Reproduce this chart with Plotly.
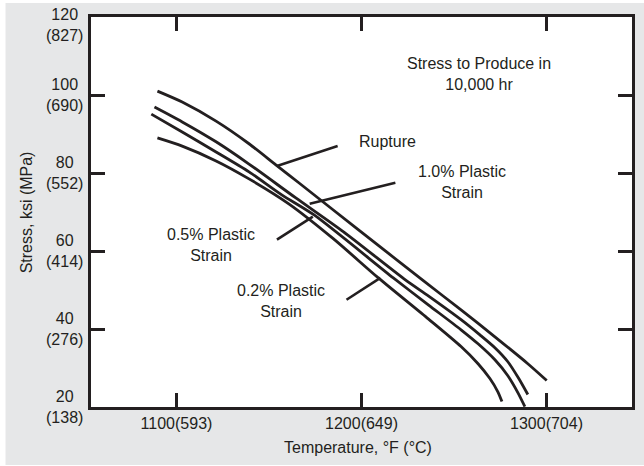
import plotly.graph_objects as go

# curves: temperature (F) vs stress (ksi)
rupture_t = [1089.7, 1103.1, 1121.4, 1139.2, 1153.7, 1166.1, 1198.4, 1233.4, 1253.8, 1272.1, 1289.9, 1300.1]
rupture_s = [101.0, 98.2, 93.3, 87.5, 82.1, 77.5, 65.4, 52.4, 44.9, 38.0, 31.1, 26.8]

p10_t = [1088.1, 1103.1, 1121.4, 1139.2, 1164.5, 1190.3, 1223.7, 1236.1, 1253.8, 1264.0, 1272.1, 1279.1, 1285.0, 1289.9]
p10_s = [96.9, 93.1, 88.0, 82.3, 73.6, 64.9, 52.6, 48.5, 42.4, 38.5, 35.2, 31.6, 27.3, 23.2]

p05_t = [1086.4, 1103.1, 1121.4, 1139.2, 1156.9, 1174.2, 1217.2, 1236.1, 1253.8, 1263.0, 1272.1, 1279.1, 1284.5, 1288.3]
p05_s = [95.1, 90.5, 85.4, 80.3, 74.4, 69.3, 53.1, 46.2, 39.8, 36.2, 32.1, 28.0, 23.7, 20.1]

p02_t = [1089.7, 1103.1, 1121.4, 1139.2, 1160.7, 1184.9, 1209.1, 1236.1, 1253.8, 1263.0, 1269.4, 1273.7, 1275.9]
p02_s = [89.0, 86.9, 83.1, 78.5, 72.1, 63.1, 53.1, 42.6, 35.5, 31.1, 27.3, 23.9, 21.4]

# leader lines from labels to curves
leader_t = [[1154.3, 1187.1], [1172.0, 1218.3], [1154.3, 1173.7], [1191.9, 1210.2]]
leader_s = [[81.8, 86.9], [72.1, 77.5], [62.9, 68.8], [47.5, 53.1]]

labels = ["Stress to Produce in<br>10,000 hr", "Rupture", "1.0% Plastic<br>Strain",
          "0.5% Plastic<br>Strain", "0.2% Plastic<br>Strain"]
label_t = [1263.5, 1213.9, 1254.3, 1118.8, 1156.5]
label_s = [105.4, 88.0, 77.7, 61.6, 47.3]

x_ticks = [1100, 1200, 1300]
x_ticktext = ["1100(593)", "1200(649)", "1300(704)"]
y_ticks = [20, 40, 60, 80, 100, 120]
y_ticktext = ["20<br>(138)", "40<br>(276)", "60<br>(414)", "80<br>(552)", "100<br>(690)", "120<br>(827)"]

INK = "#231f20"
GREY = "#e6e7e8"
FONT = "Liberation Sans, Arial, sans-serif"
FS = 16

fig = go.Figure()

for t, s in [(rupture_t, rupture_s), (p10_t, p10_s), (p05_t, p05_s), (p02_t, p02_s)]:
    fig.add_trace(go.Scatter(
        x=t, y=s, mode="lines",
        line=dict(color=INK, width=2.8, shape="spline", smoothing=0.7),
        showlegend=False, hoverinfo="skip",
    ))

for t, s in zip(leader_t, leader_s):
    fig.add_trace(go.Scatter(
        x=t, y=s, mode="lines",
        line=dict(color=INK, width=2.6),
        showlegend=False, hoverinfo="skip",
    ))

for txt, t, s in zip(labels, label_t, label_s):
    fig.add_annotation(x=t, y=s, text=txt, showarrow=False, align="center",
                       xanchor="center", yanchor="middle",
                       font=dict(size=FS, color=INK, family=FONT))

# y tick labels (two lines, centred)
for v, txt in zip(y_ticks, y_ticktext):
    fig.add_annotation(x=-0.0496, y=v, xref="paper", yref="y", text=txt,
                       showarrow=False, align="center", xanchor="center", yanchor="middle",
                       yshift=-8 if v == 120 else 0,
                       font=dict(size=FS, color=INK, family=FONT))

fig.add_annotation(x=-0.1195, y=0.5, xref="paper", yref="paper", text="Stress, ksi (MPa)",
                   textangle=-90, showarrow=False, xanchor="center", yanchor="middle",
                   font=dict(size=FS, color=INK, family=FONT))
fig.add_annotation(x=0.494, y=-0.1026, xref="paper", yref="paper", text="Temperature, °F (°C)",
                   showarrow=False, xanchor="center", yanchor="middle",
                   font=dict(size=FS, color=INK, family=FONT))

# thin white border round the grey panel
for x0, x1, y0, y1 in [(-0.18, -0.158, -0.2, 1.1), (-0.18, 1.1, 1.036, 1.1), (-0.18, 1.1, -0.2, -0.1487)]:
    fig.add_shape(type="rect", xref="paper", yref="paper", x0=x0, x1=x1, y0=y0, y1=y1,
                  fillcolor="white", line=dict(width=0), layer="below")

fig.update_xaxes(
    range=[1053.8, 1346.2], tickvals=x_ticks, ticktext=x_ticktext,
    showline=True, linecolor=INK, linewidth=3, mirror="ticks",
    ticks="inside", ticklen=14, tickwidth=3, tickcolor=INK,
    showgrid=False, zeroline=False,
    tickfont=dict(size=FS, color=INK, family=FONT),
)
fig.update_yaxes(
    range=[20, 120], tickvals=y_ticks, showticklabels=False,
    showline=True, linecolor=INK, linewidth=3, mirror="ticks",
    ticks="inside", ticklen=14, tickwidth=3, tickcolor=INK,
    showgrid=False, zeroline=False,
)

fig.update_layout(
    width=644, height=466,
    margin=dict(l=91, r=9, t=17, b=59),
    paper_bgcolor=GREY, plot_bgcolor="white",
    font=dict(family=FONT, color=INK),
    showlegend=False,
)

fig.write_html("out.html", config={"displayModeBar": False},
               post_script="document.body.style.margin='0';")
